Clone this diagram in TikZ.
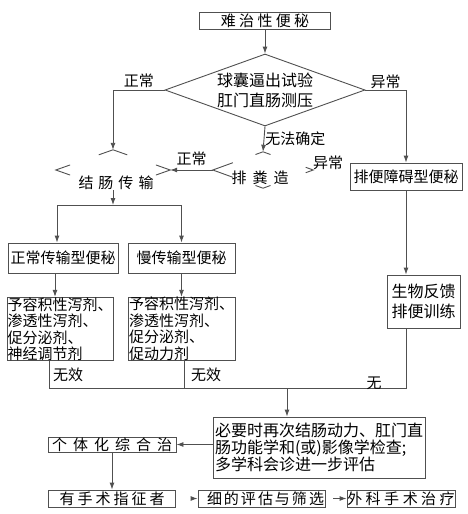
\documentclass[tikz,border=0pt]{standalone}
\usepackage{fontspec}
\setmainfont{Noto Sans CJK SC}
\usetikzlibrary{shapes.geometric,arrows.meta,positioning,calc}

\definecolor{lc}{RGB}{80,80,80}
% short strokes at a corner of a diamond
\newcommand{\tipfrag}[5][.25]{\draw[rule] ($(#2.#3)!#1!(#2.#4)$) -- (#2.#3) -- ($(#2.#3)!#1!(#2.#5)$);}

\tikzset{
  box/.style={draw=lc, line width=.9pt, inner sep=0pt, font=\fontsize{15}{16.5}\selectfont},
  decide/.style={diamond, draw=lc, line width=.9pt, inner sep=0pt, aspect=2.8, align=center, font=\fontsize{16}{20}\selectfont},
  frag/.style={diamond, inner sep=0pt},
  txt/.style={inner sep=0pt, font=\fontsize{15}{16.5}\selectfont},
  tag/.style={inner sep=1pt, font=\fontsize{15}{16}\selectfont},
  conn/.style={draw=lc, line width=.9pt, -{Latex[length=7pt,width=5pt]}},
  rule/.style={draw=lc, line width=.9pt},
}

\begin{document}
\begin{tikzpicture}[x=1pt,y=-1pt]
\useasboundingbox (0,0) rectangle (467,514);

\node[box, minimum width=131, minimum height=17] (nb) at (265,20.5) {难 治 性 便 秘};
\node[decide, minimum width=200, minimum height=72] (qn) at (265,90) {球囊逼出试验\\肛门直肠测压};

\node[frag, minimum width=114, minimum height=40] (jc) at (113,170) {};
\node[txt] (jct) at (116,183) {结\hspace{5pt}肠\hspace{5pt}传\hspace{5pt}输};
\node[frag, minimum width=100, minimum height=36] (pf) at (263,170) {};
\node[txt] (pft) at (260,178) {排\hspace{6pt}粪\hspace{6pt}造};
\node[box, minimum width=112, minimum height=27] (pz) at (406,176.5) {排便障碍型便秘};

\node[box, minimum width=110, minimum height=30] (zc) at (63,258) {正常传输型便秘};
\node[box, minimum width=107, minimum height=30] (mc) at (181.5,258) {慢传输型便秘};
\node[box, minimum width=106, minimum height=62, align=left] (zd) at (60,329) {予容积性泻剂、\\渗透性泻剂、\\促分泌剂、\\神经调节剂};
\node[box, minimum width=107, minimum height=62, align=left] (md) at (181.5,329) {予容积性泻剂、\\渗透性泻剂、\\促分泌剂、\\促动力剂};
\node[box, minimum width=73, minimum height=53, align=center, font=\fontsize{16}{20}\selectfont] (sw) at (423.5,301.5) {生物反馈\\排便训练};

\node[box, minimum width=212, minimum height=61, align=left, font=\fontsize{16}{17}\selectfont] (bx) at (319,447.5) {必要时再次结肠动力、肛门直\\肠功能学和(或)影像学检查;\\多学科会诊进一步评估};
\node[box, minimum width=128, minimum height=15] (gt) at (112,444.5) {个\hspace{6pt}体\hspace{6pt}化\hspace{6pt}综\hspace{6pt}合\hspace{6pt}治};
\node[box, minimum width=127, minimum height=17] (yz) at (112,498.5) {有\hspace{3pt}手\hspace{3pt}术\hspace{3pt}指\hspace{3pt}征\hspace{3pt}者};
\node[box, minimum width=127, minimum height=17] (xp) at (261.5,498.5) {\hspace{8pt}细\hspace{2pt}的\hspace{2pt}评\hspace{2pt}估\hspace{2pt}与\hspace{2pt}筛\hspace{2pt}选};
\node[box, minimum width=108, minimum height=17] (wk) at (401,498.5) {外\hspace{3.5pt}科\hspace{3.5pt}手\hspace{3.5pt}术\hspace{3.5pt}治\hspace{3.5pt}疗};

% broken diamonds
\tipfrag{jc}{west}{north}{south}
\tipfrag{jc}{north}{west}{east}
\tipfrag{jc}{east}{north}{south}
\tipfrag[.4]{pf}{west}{north}{south}
\tipfrag[.15]{pf}{north}{west}{east}
\tipfrag[.15]{pf}{east}{north}{south}
\tipfrag[.15]{pf}{south}{west}{east}

\draw[conn] (nb) -- (qn);
\draw[conn] (qn.west) -| (jc.north) node[tag, pos=.25, above=1pt] (l1) {正常};
\draw[conn] (qn.east) -| (pz.north) node[tag, pos=.25, above=0pt] (l2) {异常};
\draw[conn] (qn.south) -- (pf.north) node[tag, midway, right=0pt] (l3) {无法确定};
\draw[conn] (pf.west) -- (jc.east) node[tag, midway, above=3pt] (l4) {正常};
\node[tag] (l5) at (328,163) {异常};

\coordinate (sp) at (113,205);
\draw[conn] (jc.south) -- (sp);
\draw[conn] (sp) -| ([xshift=-6]zc.north);
\draw[conn] (sp) -| (mc.north);
\draw[conn] ([xshift=-8]zc.south) -- ([xshift=-5]zd.north);
\draw[conn] (mc.south) -- (md.north);
\draw[conn] (pz.south) -- ([xshift=-17.5]sw.north);

\coordinate (bm) at (287,388);
\draw[rule] ([xshift=-11]zd.south) |- (bm);
\draw[rule] ([xshift=3]md.south) -- ([xshift=3]md.south |- bm);
\draw[rule] ([xshift=-17]sw.south) |- (bm);
\node[tag] (w1) at (68,375) {无效};
\node[tag] (w2) at (206,375) {无效};
\node[tag] (w3) at (374,383) {无};
\draw[conn] (bm) -- (bm |- bx.north);

\draw[conn] (bx.west |- gt.east) -- (gt.east);
\draw[conn] (gt) -- (yz);
\draw[conn, shorten <=18pt] (yz) -- (xp);
\draw[conn, shorten <=8pt] (xp) -- (wk);
\end{tikzpicture}
\end{document}
